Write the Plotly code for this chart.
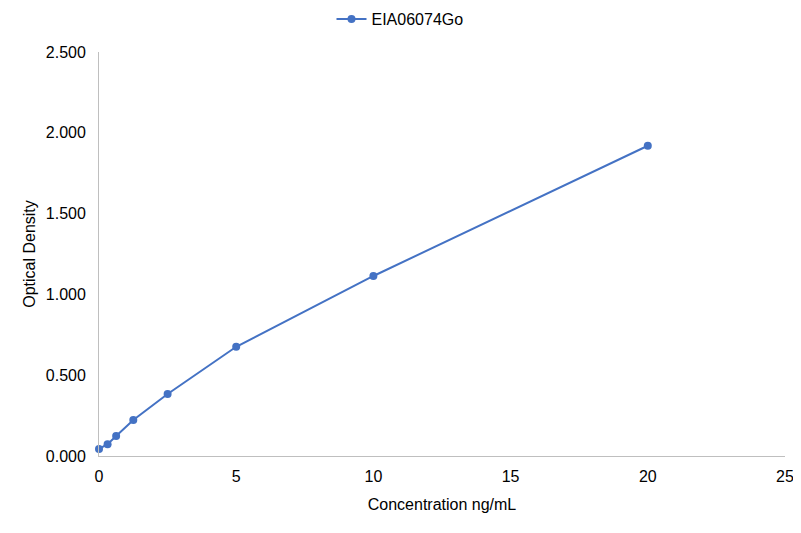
# 標準曲線のグラフ (濃度 vs 吸光度)
import plotly.graph_objects as go

concentration = [0, 0.3125, 0.625, 1.25, 2.5, 5, 10, 20]
optical_density = [0.044, 0.073, 0.124, 0.223, 0.384, 0.676, 1.114, 1.920]
series_name = "EIA06074Go"

line_color = "#4472C4"
axis_color = "#BFBFBF"
font_family = "Liberation Sans, Arial, sans-serif"

# ページ余白(8px)の分だけ小さく
W, H = 785, 517
l, r, t, b = 91, 8, 44, 69

fig = go.Figure()
fig.add_trace(go.Scatter(
    x=concentration,
    y=optical_density,
    mode="lines+markers",
    name=series_name,
    line=dict(color=line_color, width=2),
    marker=dict(color=line_color, size=8),
    cliponaxis=False,
))

fig.update_layout(
    width=W, height=H,
    margin=dict(l=l, r=r, t=t, b=b),
    paper_bgcolor="white", plot_bgcolor="white",
    font=dict(family=font_family, size=16, color="#000000"),
    showlegend=True,
    legend=dict(orientation="h", xref="container", yref="container",
                x=(400 - 8) / W, xanchor="center",
                y=1 - (19 - 8) / H, yanchor="middle",
                font=dict(size=16)),
    xaxis=dict(
        range=[0, 25], dtick=5, tick0=0,
        showgrid=False, zeroline=False,
        showline=True, linecolor=axis_color, linewidth=1,
        ticks="outside", ticklen=6, tickcolor="rgba(0,0,0,0)",
        ticklabeloverflow="allow", automargin=False,
        title=dict(text="Concentration ng/mL", font=dict(size=16), standoff=14),
    ),
    yaxis=dict(
        range=[0, 2.5], dtick=0.5, tick0=0, tickformat=".3f",
        showgrid=False, zeroline=False,
        showline=True, linecolor=axis_color, linewidth=1,
        ticks="", ticklen=0, ticksuffix="  ",
        title=dict(text="Optical Density", font=dict(size=16), standoff=6),
    ),
)

fig.write_html("out.html")
